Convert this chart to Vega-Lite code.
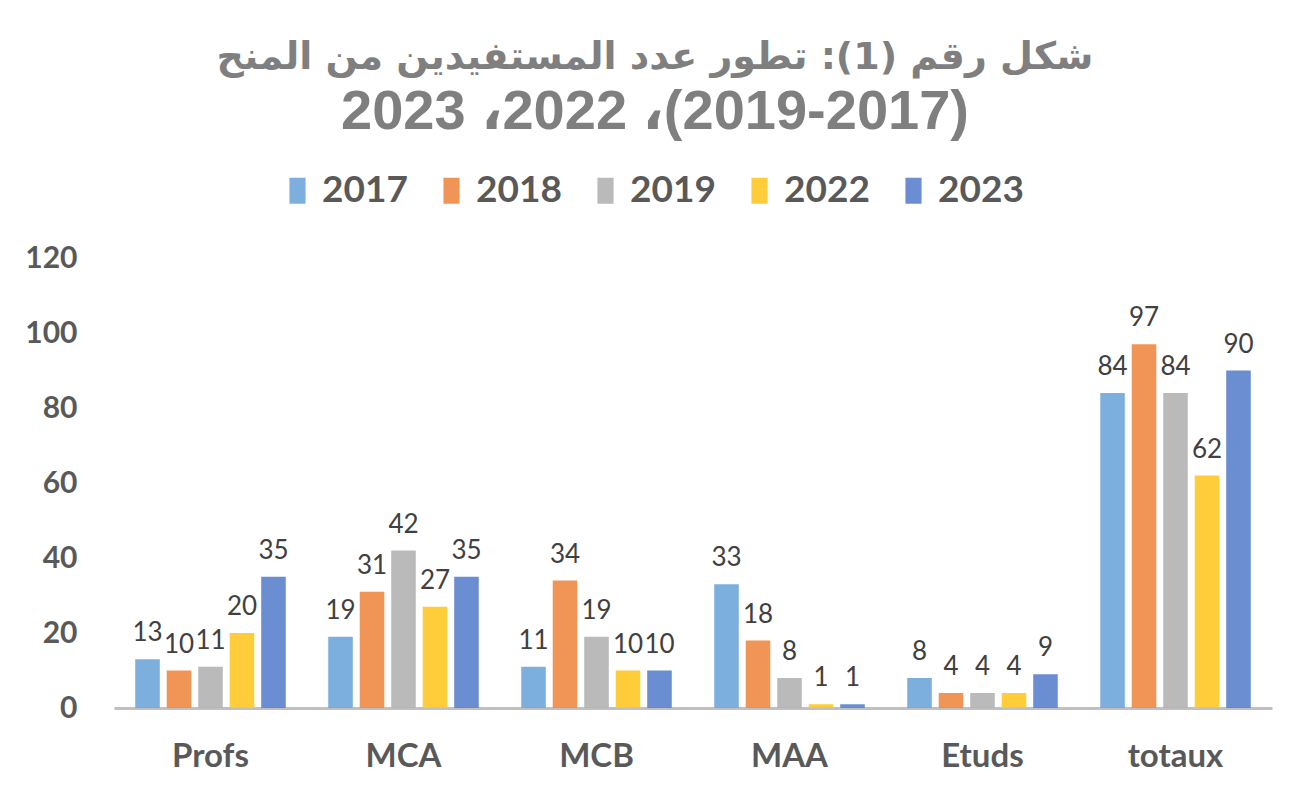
{
  "$schema": "https://vega.github.io/schema/vega-lite/v6.json",
  "width": 1158,
  "height": 450,
  "autosize": {"type": "none"},
  "padding": {"left": 114, "top": 258, "right": 33, "bottom": 86},
  "background": "white",
  "title": {
    "text": "شكل رقم (1): تطور عدد المستفيدين من المنح",
    "subtitle": "‭2023 ،2022 ،(2019-2017)‬",
    "font": "DejaVu Sans",
    "fontSize": 38,
    "fontWeight": "bold",
    "color": "#7f7f7f",
    "subtitleFont": "Liberation Sans, DejaVu Sans",
    "subtitleFontSize": 56,
    "subtitleFontWeight": "bold",
    "subtitleColor": "#7f7f7f",
    "subtitlePadding": 8,
    "anchor": "middle",
    "dx": -38,
    "offset": 32
  },
  "data": {
    "values": [
      {"cat": "Profs", "year": "2017", "value": 13},
      {"cat": "Profs", "year": "2018", "value": 10},
      {"cat": "Profs", "year": "2019", "value": 11},
      {"cat": "Profs", "year": "2022", "value": 20},
      {"cat": "Profs", "year": "2023", "value": 35},
      {"cat": "MCA", "year": "2017", "value": 19},
      {"cat": "MCA", "year": "2018", "value": 31},
      {"cat": "MCA", "year": "2019", "value": 42},
      {"cat": "MCA", "year": "2022", "value": 27},
      {"cat": "MCA", "year": "2023", "value": 35},
      {"cat": "MCB", "year": "2017", "value": 11},
      {"cat": "MCB", "year": "2018", "value": 34},
      {"cat": "MCB", "year": "2019", "value": 19},
      {"cat": "MCB", "year": "2022", "value": 10},
      {"cat": "MCB", "year": "2023", "value": 10},
      {"cat": "MAA", "year": "2017", "value": 33},
      {"cat": "MAA", "year": "2018", "value": 18},
      {"cat": "MAA", "year": "2019", "value": 8},
      {"cat": "MAA", "year": "2022", "value": 1},
      {"cat": "MAA", "year": "2023", "value": 1},
      {"cat": "Etuds", "year": "2017", "value": 8},
      {"cat": "Etuds", "year": "2018", "value": 4},
      {"cat": "Etuds", "year": "2019", "value": 4},
      {"cat": "Etuds", "year": "2022", "value": 4},
      {"cat": "Etuds", "year": "2023", "value": 9},
      {"cat": "totaux", "year": "2017", "value": 84},
      {"cat": "totaux", "year": "2018", "value": 97},
      {"cat": "totaux", "year": "2019", "value": 84},
      {"cat": "totaux", "year": "2022", "value": 62},
      {"cat": "totaux", "year": "2023", "value": 90}
    ]
  },
  "encoding": {
    "x": {
      "field": "cat", "type": "nominal",
      "sort": ["Profs", "MCA", "MCB", "MAA", "Etuds", "totaux"],
      "scale": {"paddingInner": 0.22, "paddingOuter": 0.11},
      "axis": {
        "title": null, "labelAngle": 0, "ticks": false,
        "domainColor": "#c0c0c0", "domainWidth": 3,
        "labelFont": "Lato", "labelFontSize": 33, "labelFontWeight": "bold",
        "labelColor": "#595959", "labelPadding": 32
      }
    },
    "xOffset": {
      "field": "year", "type": "nominal",
      "scale": {"paddingInner": 0.22, "paddingOuter": 0}
    },
    "y": {
      "field": "value", "type": "quantitative",
      "scale": {"domain": [0, 120], "nice": false},
      "axis": {
        "title": null, "values": [0, 20, 40, 60, 80, 100, 120],
        "grid": false, "domain": false, "ticks": false,
        "labelFont": "Lato", "labelFontSize": 30, "labelFontWeight": "bold",
        "labelColor": "#595959", "labelPadding": 37
      }
    }
  },
  "layer": [
    {
      "mark": {"type": "bar", "opacity": 0.9},
      "encoding": {
        "color": {
          "field": "year", "type": "nominal",
          "scale": {
            "domain": ["2017", "2018", "2019", "2022", "2023"],
            "range": ["#6ea6da", "#ef8a45", "#b2b2b2", "#ffc824", "#5a82cc"]
          },
          "legend": {
            "orient": "none", "direction": "horizontal", "title": null,
            "legendX": 165, "legendY": -86,
            "symbolType": "M-0.62,-1H0.62V1H-0.62Z", "symbolSize": 676, "symbolStrokeWidth": 0,
            "symbolOpacity": 0.9,
            "labelFont": "Lato", "labelFontSize": 37, "labelFontWeight": "bold",
            "labelColor": "#595959", "columnPadding": 25, "labelOffset": 6
          }
        }
      }
    },
    {
      "mark": {"type": "text", "baseline": "alphabetic", "dy": -18, "font": "Lato", "fontSize": 26, "color": "#404040"},
      "encoding": {
        "text": {"field": "value", "type": "quantitative"}
      }
    }
  ],
  "config": {
    "view": {"stroke": null}
  }
}
